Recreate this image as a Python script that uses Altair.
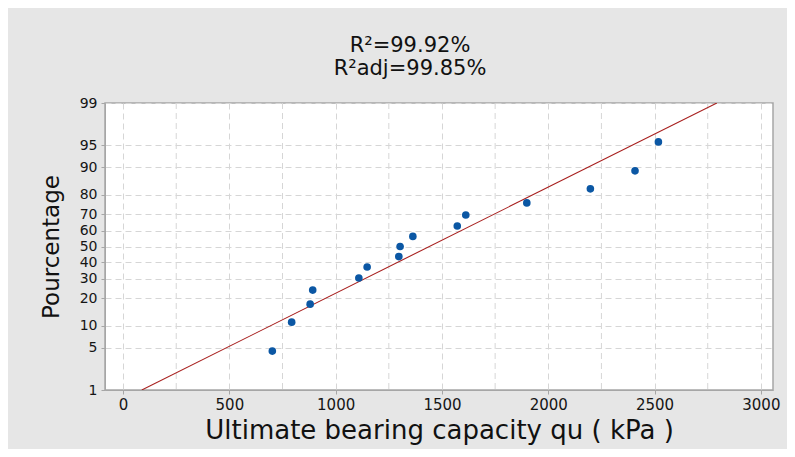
import altair as alt
import pandas as pd
from statistics import NormalDist

# Data
capacity_kpa = [702, 793, 880, 892, 1109, 1148, 1297, 1303, 1363, 1572, 1612, 1899, 2198, 2408, 2518]
percent = [4.5, 11.0, 17.5, 24.0, 30.5, 37.0, 43.5, 50.0, 56.5, 63.0, 69.5, 76.0, 82.5, 89.0, 95.5]

fit_x = [88, 2793]
fit_p = [1, 99]

y_ticks_pct = [1, 5, 10, 20, 30, 40, 50, 60, 70, 80, 90, 95, 99]
x_ticks = [0, 500, 1000, 1500, 2000, 2500, 3000]
x_minor = [250, 750, 1250, 1750, 2250, 2750]

nd = NormalDist()
y_tick_z = [nd.inv_cdf(p / 100) for p in y_ticks_pct]
y_dom = [nd.inv_cdf(0.01), nd.inv_cdf(0.99)]

pts = pd.DataFrame({"qu": capacity_kpa, "pct": percent})
fit = pd.DataFrame({"qu": fit_x, "pct": fit_p})
minor = pd.DataFrame({"qu": x_minor})

FONT = "DejaVu Sans"
grid_color = "#d6d6d6"
x_scale = alt.Scale(domain=[-85, 3057], nice=False, zero=False)

x_enc = alt.X(
    "qu:Q",
    scale=x_scale,
    axis=alt.Axis(
        values=x_ticks,
        format="d",
        title="Ultimate bearing capacity qu ( kPa )",
        grid=True,
        gridDash=[6, 4],
        gridColor=grid_color,
        tickSize=4,
        labelPadding=3,
        labelFontSize=15,
        titlePadding=5,
        titleFontSize=26,
        labelOverlap=False,
    ),
)

y_enc = alt.Y(
    "z:Q",
    scale=alt.Scale(domain=y_dom, nice=False, zero=False),
    axis=alt.Axis(
        values=y_tick_z,
        labelExpr="format(round(cumulativeNormal(datum.value) * 100), 'd')",
        title="Pourcentage",
        grid=True,
        gridDash=[6, 4],
        gridColor=grid_color,
        tickSize=4,
        labelPadding=4,
        labelFontSize=14,
        titlePadding=16,
        titleFontSize=23,
        labelOverlap=False,
    ),
)

minor_grid = (
    alt.Chart(minor)
    .mark_rule(color=grid_color, strokeDash=[6, 4], strokeWidth=1)
    .encode(x=alt.X("qu:Q", scale=x_scale))
)

line = (
    alt.Chart(fit)
    .transform_calculate(z="quantileNormal(datum.pct / 100)")
    .mark_line(color="#a8201f", strokeWidth=1.1, clip=True)
    .encode(x=x_enc, y=y_enc)
)

points = (
    alt.Chart(pts)
    .transform_calculate(z="quantileNormal(datum.pct / 100)")
    .mark_circle(color="#0b57a4", size=58, opacity=1)
    .encode(x=x_enc, y=y_enc)
)

chart = (
    alt.layer(minor_grid, line, points)
    .properties(
        width=668,
        height=287,
        autosize=alt.AutoSizeParams(type="none"),
        padding={"left": 97, "top": 95, "right": 14, "bottom": 59},
        background="#e6e6e6",
        title=alt.TitleParams(
            text=["R²=99.92%", "R²adj=99.85%"],
            anchor="middle",
            dx=-29,
            offset=17,
            fontSize=21,
            font=FONT,
            fontWeight="normal",
            color="#111111",
            lineHeight=23,
        ),
    )
    .configure_view(fill="white", stroke="#a6a6a6", strokeWidth=1.5)
    .configure_axis(
        domainColor="#a6a6a6",
        tickColor="#a6a6a6",
        labelFont=FONT,
        labelFontWeight="normal",
        labelColor="#151515",
        titleFont=FONT,
        titleFontWeight="normal",
        titleColor="#111111",
    )
)

chart.save("out.html", embed_options={"renderer": "svg", "actions": False})
